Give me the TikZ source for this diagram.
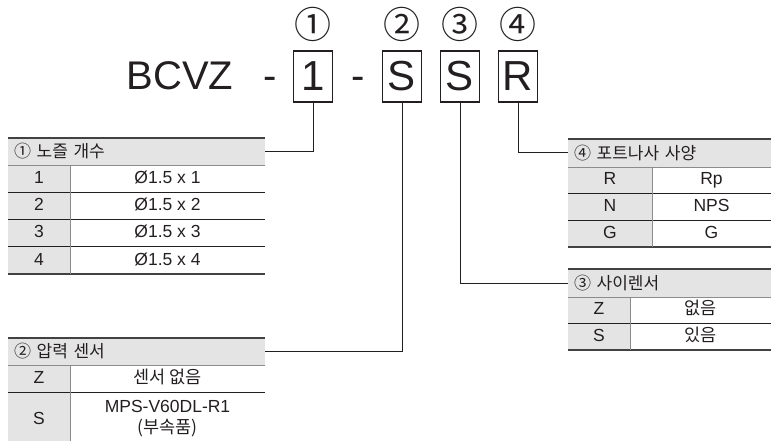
\documentclass[tikz,border=0pt]{standalone}
\usepackage{fontspec}
\setmainfont{Liberation Sans}
\newfontfamily\kr{Noto Sans CJK KR}
\definecolor{grisfond}{HTML}{E4E4E4}
\definecolor{grisligne}{HTML}{8C8C8C}
\definecolor{encre}{HTML}{231F20}

\begin{document}
\begin{tikzpicture}[x=1pt, y=-1pt, every node/.style={text=encre}]
\tikzset{boite/.style={draw=encre, line width=1.2pt, minimum width=39pt, minimum height=51pt, inner sep=0pt, font=\fontsize{42}{42}\selectfont},
  rond/.style={inner sep=0pt, font=\kr\fontsize{37}{37}\selectfont},
  grand/.style={anchor=base, inner sep=0pt, font=\fontsize{40}{40}\selectfont},
  entete/.style={fill=grisfond, inner xsep=6pt, inner ysep=0pt, align=left, font=\kr\fontsize{17}{17}\selectfont},
  cle/.style={fill=grisfond, inner sep=0pt, minimum height=27pt, text height=12pt, text depth=3pt, font=\fontsize{17.5}{21}\selectfont},
  valeur/.style={inner sep=0pt, minimum height=27pt, text height=12pt, text depth=3pt, font=\fontsize{17.5}{21}\selectfont},
  regle/.style={draw=encre!85, line width=1.5pt},
  filet/.style={draw=encre, line width=0.8pt},
  sep/.style={draw=grisligne, line width=0.9pt},
  lien/.style={draw=encre, line width=1pt}}
\useasboundingbox (0,0) rectangle (771,441);
\clip (0,0) rectangle (771,441);
% code
\node[grand] (M) at (180,90) {BCVZ};
\node[grand] (D1) at (270,90) {-};
\node[grand] (D2) at (358,90) {-};
\node[boite] (B1) at (313,76.5) {1};
\node[boite] (B2) at (402,76.5) {S};
\node[boite] (B3) at (460,76.5) {S};
\node[boite] (B4) at (518,76.5) {R};
\node[rond] (C1) at (313,24) {①};
\node[rond] (C2) at (402,24) {②};
\node[rond] (C3) at (460,24) {③};
\node[rond] (C4) at (518,24) {④};
% tableau 1
\node[entete, minimum width=257pt, minimum height=27pt, text width=245pt] (T1) at (136.5,151.5) {① 노즐 개수};
\node[cle, minimum width=62pt] (T1k1) at (39,178.5) {1};
\node[cle, minimum width=62pt] (T1k2) at (39,205.5) {2};
\node[cle, minimum width=62pt] (T1k3) at (39,233) {3};
\node[cle, minimum width=62pt] (T1k4) at (39,260.5) {4};
\node[valeur, minimum width=195pt] (T1v1) at (167.5,178.5) {Ø1.5 x 1};
\node[valeur, minimum width=195pt] (T1v2) at (167.5,205.5) {Ø1.5 x 2};
\node[valeur, minimum width=195pt] (T1v3) at (167.5,233) {Ø1.5 x 3};
\node[valeur, minimum width=195pt] (T1v4) at (167.5,260.5) {Ø1.5 x 4};
\draw[regle] (T1.north west) -- (T1.north east);
\draw[sep] (T1.south west) -- (T1.south east);
\draw[filet] (8,192) -- (265,192);
\draw[filet] (8,219.5) -- (265,219.5);
\draw[filet] (8,246.5) -- (265,246.5);
\draw[regle] (8,274) -- (265,274);
\draw[sep] (70,165) -- (70,274);
% tableau 2
\node[entete, minimum width=257pt, minimum height=27pt, text width=245pt] (T2) at (136.5,351.5) {② 압력 센서};
\node[cle, minimum width=62pt] (T2k1) at (39,378.5) {Z};
\node[cle, minimum width=62pt, minimum height=56pt] (T2k2) at (39,420) {S};
\node[valeur, minimum width=195pt] (T2v1) at (167.5,378.5) {\kr 센서 없음};
\node[valeur, minimum width=195pt, minimum height=56pt, text height=, text depth=, align=center] (T2v2) at (167.5,419) {MPS-V60DL-R1\\\kr(부속품)};
\draw[regle] (T2.north west) -- (T2.north east);
\draw[sep] (T2.south west) -- (T2.south east);
\draw[filet] (8,392) -- (265,392);
\draw[sep] (70,365) -- (70,448);
% tableau 4
\node[entete, minimum width=203pt, minimum height=28pt, text width=191pt] (T4) at (669.5,153) {④ 포트나사 사양};
\node[cle, minimum width=84pt] (T4k1) at (610,180) {R};
\node[cle, minimum width=84pt] (T4k2) at (610,206.5) {N};
\node[cle, minimum width=84pt] (T4k3) at (610,233.5) {G};
\node[valeur, minimum width=119pt] (T4v1) at (711.5,180) {Rp};
\node[valeur, minimum width=119pt] (T4v2) at (711.5,206.5) {NPS};
\node[valeur, minimum width=119pt] (T4v3) at (711.5,233.5) {G};
\draw[regle] (T4.north west) -- (T4.north east);
\draw[sep] (T4.south west) -- (T4.south east);
\draw[filet] (568,193) -- (771,193);
\draw[filet] (568,220) -- (771,220);
\draw[regle] (568,247) -- (771,247);
\draw[sep] (652,167) -- (652,247);
% tableau 3
\node[entete, minimum width=203pt, minimum height=28pt, text width=191pt] (T3) at (669.5,283) {③ 사이렌서};
\node[cle, minimum width=62pt] (T3k1) at (599,310) {Z};
\node[cle, minimum width=62pt] (T3k2) at (599,336.5) {S};
\node[valeur, minimum width=141pt] (T3v1) at (700.5,310) {\kr 없음};
\node[valeur, minimum width=141pt] (T3v2) at (700.5,336.5) {\kr 있음};
\draw[regle] (T3.north west) -- (T3.north east);
\draw[sep] (T3.south west) -- (T3.south east);
\draw[filet] (568,323) -- (771,323);
\draw[regle] (568,350) -- (771,350);
\draw[sep] (630,297) -- (630,350);
% liens
\draw[lien] (B1.south) |- (T1.east);
\draw[lien] (B2.south) |- (T2.east);
\draw[lien] (B3.south) |- (T3.west);
\draw[lien] (B4.south) |- (T4.west);
\end{tikzpicture}
\end{document}
